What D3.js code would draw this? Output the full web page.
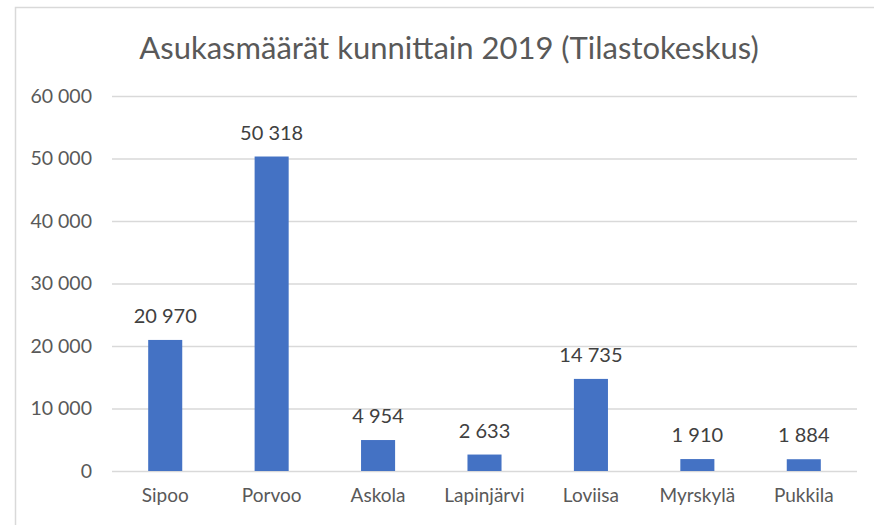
<!DOCTYPE html>
<html>
<head>
<meta charset="utf-8">
<script src="https://cdn.jsdelivr.net/npm/d3@7"></script>
<style>
  body { margin: 0; background: #fff; }
  svg { display: block; font-family: Lato, "Open Sans", sans-serif; }
</style>
</head>
<body>
<svg id="chart" width="874" height="525"></svg>
<script>
const categories = ['Sipoo', 'Porvoo', 'Askola', 'Lapinjärvi', 'Loviisa', 'Myrskylä', 'Pukkila']
const values = [20970, 50318, 4954, 2633, 14735, 1910, 1884]
const yTicks = [0, 10000, 20000, 30000, 40000, 50000, 60000]
const title = 'Asukasmäärät kunnittain 2019 (Tilastokeskus)'

const margin = {top: 96, right: 17, bottom: 54, left: 112}
const width = 874 - margin.left - margin.right
const height = 525 - margin.top - margin.bottom

const fi = d3.formatLocale({decimal: ',', thousands: '\u00a0', grouping: [3], currency: ['', ' €']})
const fmt = fi.format(',d')

const svg = d3.select('#chart')

// chart frame
svg.append('rect')
  .attr('x', 15.5).attr('y', 7.5)
  .attr('width', 900).attr('height', 600)
  .attr('fill', '#fff')
  .attr('stroke', '#d9d9d9')
  .attr('stroke-width', 1.5)

svg.append('text')
  .attr('x', 449).attr('y', 59)
  .attr('text-anchor', 'middle')
  .attr('font-size', 31)
  .attr('fill', '#595959')
  .text(title)

const g = svg.append('g')
  .attr('transform', 'translate(' + margin.left + ',' + margin.top + ')')

const xScale = d3.scaleBand()
  .domain(categories)
  .range([0, width])
  .paddingInner(0.68)
  .paddingOuter(0.34)

const yScale = d3.scaleLinear()
  .domain([0, 60000])
  .range([height, 0])

const yAxis = d3.axisLeft(yScale)
  .tickValues(yTicks)
  .tickSize(-width)
  .tickPadding(20)
  .tickFormat(fmt)

g.append('g')
  .call(yAxis)
  .call(a => a.select('.domain').remove())
  .call(a => a.selectAll('line').attr('stroke', '#d9d9d9').attr('stroke-width', 1.3))
  .call(a => a.selectAll('text').attr('fill', '#595959').attr('font-size', 19.5).attr('font-family', 'Lato, sans-serif'))

g.selectAll('rect.bar')
  .data(values)
  .enter()
  .append('rect')
  .attr('class', 'bar')
  .attr('x', (d, i) => xScale(categories[i]))
  .attr('y', d => yScale(d))
  .attr('width', xScale.bandwidth())
  .attr('height', d => height - yScale(d))
  .attr('fill', '#4472c4')

g.selectAll('text.val')
  .data(values)
  .enter()
  .append('text')
  .attr('class', 'val')
  .attr('x', (d, i) => xScale(categories[i]) + xScale.bandwidth() / 2)
  .attr('y', d => yScale(d) - 17)
  .attr('text-anchor', 'middle')
  .attr('font-size', 20)
  .attr('fill', '#404040')
  .text(d => fmt(d))

const xAxis = d3.axisBottom(xScale)
  .tickSize(0)
  .tickPadding(18)

g.append('g')
  .attr('transform', 'translate(0,' + height + ')')
  .call(xAxis)
  .call(a => a.select('.domain').remove())
  .call(a => a.selectAll('text').attr('fill', '#595959').attr('font-size', 19).attr('font-family', 'Lato, sans-serif'))
</script>
</body>
</html>
